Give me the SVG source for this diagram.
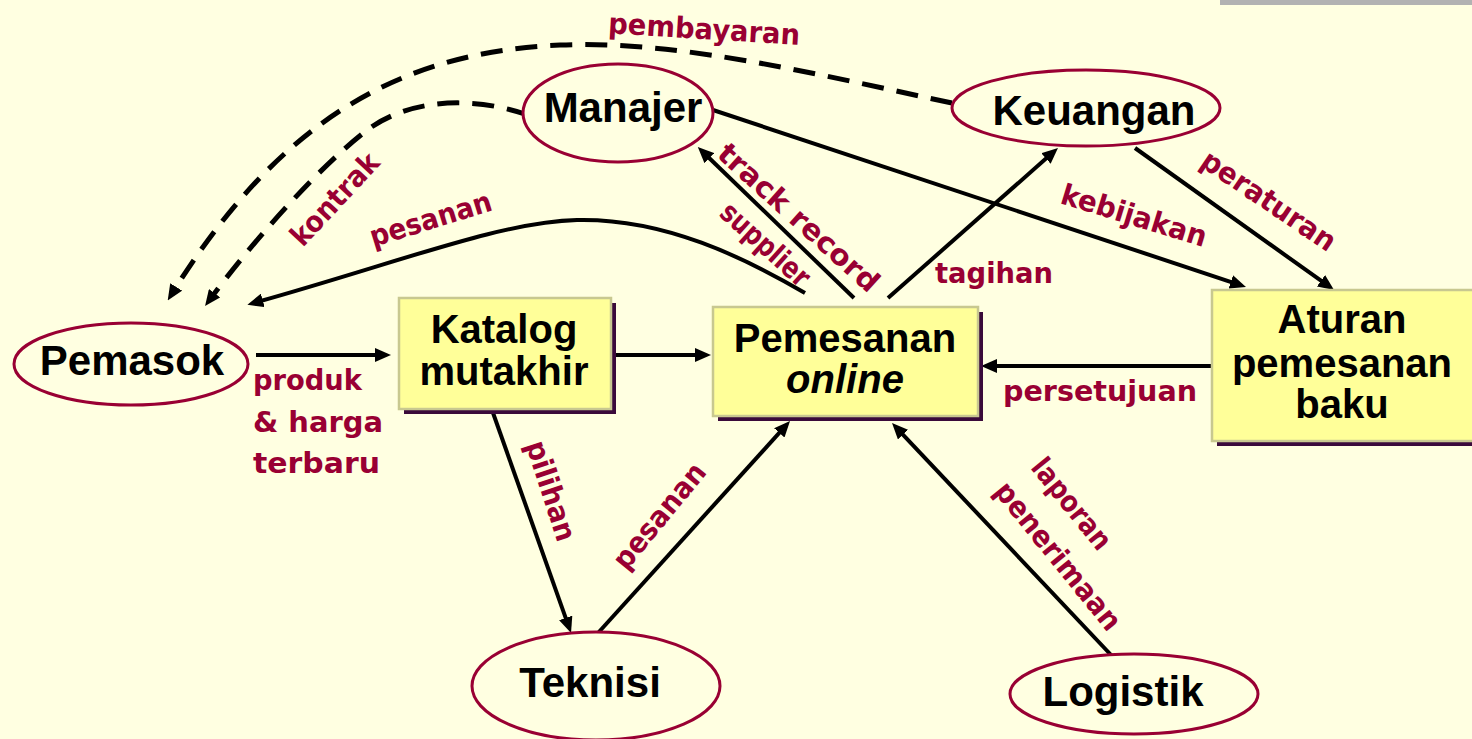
<svg xmlns="http://www.w3.org/2000/svg" width="1472" height="739" viewBox="0 0 1472 739">
  <defs>
    <marker id="arrow" viewBox="0 0 16 14" refX="6" refY="7" markerWidth="16" markerHeight="14" markerUnits="userSpaceOnUse" orient="auto">
      <path d="M0,0 L16,7 L0,14 z" fill="#000"/>
    </marker>
    <style>
      .bg { fill: #FFFFE1; }
      .ell { fill: #FFFFE1; stroke: #990033; stroke-width: 3; }
      .box { fill: #FFFF99; stroke: #C8C890; stroke-width: 2.5; }
      .shadow { fill: #3A0A3A; }
      .node { font-family: "Liberation Sans", Arial, sans-serif; font-weight: bold; fill: #000; text-anchor: middle; }
      .ntext { font-size: 42px; }
      .btext { font-size: 40px; }
      .edge { fill: none; stroke: #000; stroke-width: 4; marker-end: url(#arrow); }
      .dash { stroke-width: 5; stroke-dasharray: 22 13; }
      .lbl { font-family: "DejaVu Sans", sans-serif; font-weight: bold; font-size: 29px; fill: #990033; text-anchor: middle; }
      .lbl-l { text-anchor: start; }
    </style>
  </defs>

  <rect class="bg" x="0" y="0" width="1472" height="739"/>
  <rect x="1220" y="0" width="252" height="5" fill="#B2B2B2"/>

  <g id="connectors">
    <!-- Pemasok -> Katalog -->
    <path class="edge" d="M256,355 L381,355"/>
    <!-- Katalog -> Pemesanan -->
    <path class="edge" d="M612,355 L701,355"/>
    <!-- Aturan -> Pemesanan -->
    <path class="edge" d="M1212,366 L991,366"/>
    <!-- Pemesanan -> Manajer -->
    <path class="edge" d="M854,298 L705,154"/>
    <!-- Pemesanan -> Keuangan -->
    <path class="edge" d="M888,298 L1050.5,154.6"/>
    <!-- Manajer -> Aturan -->
    <path class="edge" d="M713,110 L1236.5,283.8"/>
    <!-- Keuangan -> Aturan -->
    <path class="edge" d="M1135,148 L1325.9,284.2"/>
    <!-- Katalog -> Teknisi -->
    <path class="edge" d="M492,410 L567.7,623.6"/>
    <!-- Teknisi -> Pemesanan -->
    <path class="edge" d="M598,633 L783.3,428.4"/>
    <!-- Logistik -> Pemesanan -->
    <path class="edge" d="M1112,656 L898.9,430.3"/>
    <!-- Pemesanan -> Pemasok (curved) -->
    <path class="edge" d="M805,293 C745,258 665,218 577,220 C500,222 400,262 257,302"/>
    <!-- Manajer -> Pemasok (dashed) -->
    <path class="edge dash" d="M528,115 C470,95 410,100 370,128 C320,165 250,245 211,298"/>
    <!-- Keuangan -> Pemasok (dashed) -->
    <path class="edge dash" d="M952,103 C820,75 680,40 560,45 C400,52 280,120 173,292"/>
  </g>

  <g id="node-pemasok">
    <ellipse class="ell" cx="131" cy="364" rx="117" ry="41"/>
    <text class="node ntext" x="132" y="375">Pemasok</text>
  </g>
  <g id="node-manajer">
    <ellipse class="ell" cx="618" cy="113" rx="95" ry="49"/>
    <text class="node ntext" x="623" y="122">Manajer</text>
  </g>
  <g id="node-keuangan">
    <ellipse class="ell" cx="1086" cy="108" rx="134" ry="38"/>
    <text class="node ntext" x="1094" y="125">Keuangan</text>
  </g>
  <g id="node-teknisi">
    <ellipse class="ell" cx="596" cy="686" rx="124" ry="54"/>
    <text class="node ntext" x="590" y="697">Teknisi</text>
  </g>
  <g id="node-logistik">
    <ellipse class="ell" cx="1134" cy="694" rx="124" ry="40"/>
    <text class="node ntext" x="1123" y="706">Logistik</text>
  </g>
  <g id="node-katalog">
    <rect class="shadow" x="404" y="303" width="212" height="111"/>
    <rect class="box" x="399" y="298" width="212" height="111"/>
    <text class="node btext" x="504" y="343">Katalog</text>
    <text class="node btext" x="504" y="385">mutakhir</text>
  </g>
  <g id="node-pemesanan">
    <rect class="shadow" x="718" y="312" width="265" height="109"/>
    <rect class="box" x="713" y="307" width="265" height="109"/>
    <text class="node btext" x="845" y="352">Pemesanan</text>
    <text class="node btext" x="845" y="393" font-style="italic">online</text>
  </g>
  <g id="node-aturan">
    <rect class="shadow" x="1217" y="295" width="270" height="151"/>
    <rect class="box" x="1212" y="290" width="270" height="151"/>
    <text class="node btext" x="1342" y="333">Aturan</text>
    <text class="node btext" x="1342" y="377">pemesanan</text>
    <text class="node btext" x="1342" y="418">baku</text>
  </g>

  <g id="edge-labels">
    <text class="lbl" transform="translate(703.6,39) rotate(3.5)" textLength="192" lengthAdjust="spacingAndGlyphs">pembayaran</text>
    <text class="lbl" transform="translate(342,206) rotate(-47)" textLength="115" lengthAdjust="spacingAndGlyphs">kontrak</text>
    <text class="lbl" transform="translate(433.5,228.5) rotate(-17)" textLength="126" lengthAdjust="spacingAndGlyphs">pesanan</text>
    <text class="lbl" transform="translate(792,225) rotate(42)" textLength="206" lengthAdjust="spacingAndGlyphs">track record</text>
    <text class="lbl" transform="translate(758.8,251.8) rotate(42)" textLength="110" lengthAdjust="spacingAndGlyphs">supplier</text>
    <text class="lbl" x="994" y="283" textLength="118" lengthAdjust="spacingAndGlyphs">tagihan</text>
    <text class="lbl" transform="translate(1131.2,225) rotate(17)" textLength="151" lengthAdjust="spacingAndGlyphs">kebijakan</text>
    <text class="lbl" transform="translate(1263.3,208.8) rotate(34)" textLength="156" lengthAdjust="spacingAndGlyphs">peraturan</text>
    <text class="lbl" x="1100" y="401" textLength="194" lengthAdjust="spacingAndGlyphs">persetujuan</text>
    <text class="lbl" transform="translate(541.7,494) rotate(72)" textLength="104" lengthAdjust="spacingAndGlyphs">pilihan</text>
    <text class="lbl" transform="translate(667,522) rotate(-50.5)" textLength="128" lengthAdjust="spacingAndGlyphs">pesanan</text>
    <text class="lbl" transform="translate(1064,510) rotate(51)" textLength="109" lengthAdjust="spacingAndGlyphs">laporan</text>
    <text class="lbl" transform="translate(1050.5,562.3) rotate(51)" textLength="182" lengthAdjust="spacingAndGlyphs">penerimaan</text>
    <text class="lbl lbl-l" x="253" y="390" textLength="109" lengthAdjust="spacingAndGlyphs">produk</text>
    <text class="lbl lbl-l" x="253" y="432" textLength="130" lengthAdjust="spacingAndGlyphs">&amp; harga</text>
    <text class="lbl lbl-l" x="253" y="473" textLength="127" lengthAdjust="spacingAndGlyphs">terbaru</text>
  </g>
</svg>
